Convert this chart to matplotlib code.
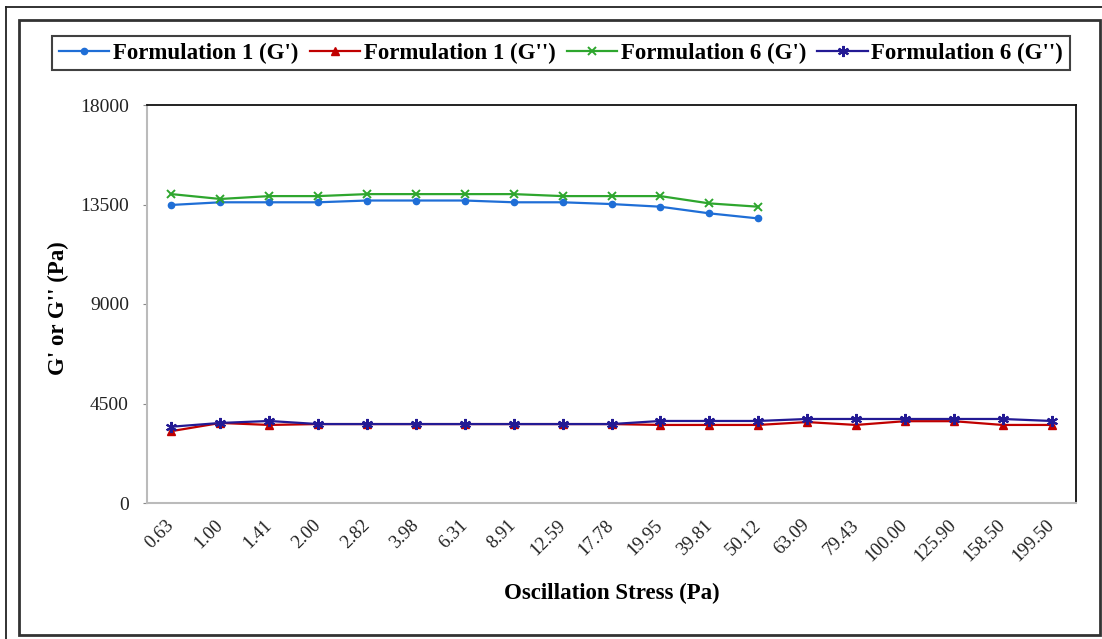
import matplotlib
matplotlib.use("Agg")
import matplotlib.pyplot as plt
from matplotlib.lines import Line2D
from matplotlib.patches import Rectangle

categories = ["0.63", "1.00", "1.41", "2.00", "2.82", "3.98", "6.31", "8.91", "12.59",
              "17.78", "19.95", "39.81", "50.12", "63.09", "79.43", "100.00", "125.90",
              "158.50", "199.50"]

f1_gp = [13480, 13600, 13600, 13600, 13680, 13680, 13680, 13600, 13600, 13520,
         13400, 13100, 12870]
f1_gpp = [3250, 3620, 3530, 3570, 3570, 3570, 3570, 3570, 3570, 3570, 3530, 3530,
          3530, 3660, 3530, 3700, 3700, 3530, 3530]
f6_gp = [13970, 13750, 13880, 13880, 13970, 13970, 13970, 13970, 13880, 13880,
         13880, 13550, 13400]
f6_gpp = [3450, 3620, 3710, 3570, 3570, 3570, 3570, 3570, 3570, 3570, 3710, 3710,
          3710, 3800, 3800, 3800, 3800, 3800, 3710]

y_ticks = [0, 4500, 9000, 13500, 18000]

labels = ["Formulation 1 (G')", "Formulation 1 (G'')",
          "Formulation 6 (G')", "Formulation 6 (G'')"]
colors = ["#1F6ED6", "#C00000", "#2EA62E", "#231A94"]

plt.rcParams['font.family'] = ['Liberation Serif', 'DejaVu Serif']

fig = plt.figure(figsize=(11.02, 6.39), dpi=100)
W, H = 1102, 639

def fx(px):
    return px / W

def fy(py):
    return 1 - py / H

# frames
fig.add_artist(Line2D([fx(6), fx(6)], [fy(7), fy(645)], color="#222222", lw=1.3,
                      transform=fig.transFigure))
fig.add_artist(Line2D([fx(6), fx(1110)], [fy(7), fy(7)], color="#222222", lw=1.3,
                      transform=fig.transFigure))
fig.add_artist(Rectangle((fx(19), fy(635)), fx(1100) - fx(19), fy(20) - fy(635),
                         fill=False, edgecolor="#333333", lw=2.0,
                         transform=fig.transFigure))

ax = fig.add_axes([fx(147), fy(503), fx(1076) - fx(147), fy(105) - fy(503)])

h1, = ax.plot(list(range(len(f1_gp))), f1_gp, color=colors[0], marker='o',
              markersize=4.5, lw=1.6)
h2, = ax.plot(list(range(len(f1_gpp))), f1_gpp, color=colors[1], marker='^',
              markersize=6, lw=1.6)
h3, = ax.plot(list(range(len(f6_gp))), f6_gp, color=colors[2], marker='x',
              markersize=6, mew=1.4, lw=1.6)
h4, = ax.plot(list(range(len(f6_gpp))), f6_gpp, color=colors[3], marker=(6, 2, 0),
              markersize=8, mew=1.5, lw=1.6)

ax.set_xlim(-0.5, len(categories) - 0.5)
ax.set_ylim(0, 18000)
ax.set_xticks(range(len(categories)))
ax.set_xticklabels(categories, rotation=45, ha='right', va='center',
                   rotation_mode='anchor', fontsize=13.5, color="#222222")
ax.set_yticks(y_ticks)
ax.set_yticklabels([str(v) for v in y_ticks], fontsize=14, color="#222222")
ax.tick_params(axis='x', length=0, pad=14)
ax.tick_params(axis='y', length=3, color="#888888", pad=10)

for s in ['left', 'bottom']:
    ax.spines[s].set_color("#BBBBBB")
    ax.spines[s].set_linewidth(1.5)
for s in ['top', 'right']:
    ax.spines[s].set_color("#111111")
    ax.spines[s].set_linewidth(1.3)

ax.set_xlabel("Oscillation Stress (Pa)", fontsize=16.5, fontweight='bold', va='center')
ax.xaxis.set_label_coords(0.5, (503 - 593) / 398)
ax.set_ylabel("G' or G'' (Pa)", fontsize=16.5, fontweight='bold', va='center')
ax.yaxis.set_label_coords((58 - 147) / 929, (503 - 308) / 398)

leg = fig.legend([h1, h2, h3, h4], labels, ncol=4, loc='center',
                 bbox_to_anchor=(fx((53 + 1069) / 2), fy(53)),
                 prop={'family': ['Liberation Serif'], 'weight': 'bold', 'size': 16.5},
                 handlelength=2.2, handletextpad=0.15, columnspacing=0.5,
                 borderpad=0.3, fancybox=False, frameon=True, borderaxespad=0)
leg.get_frame().set_edgecolor("#111111")
leg.get_frame().set_linewidth(1.5)

fig.savefig("out.png", dpi=100)
